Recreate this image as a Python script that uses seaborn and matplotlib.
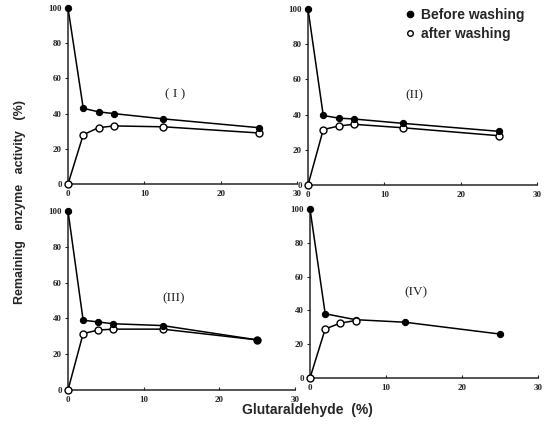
import numpy as np
import pandas as pd
import seaborn as sns
import matplotlib.pyplot as plt
from matplotlib.lines import Line2D

# glutaraldehyde concentration (%)
glut = [0, 2, 4, 6, 12.5, 25]

# remaining activity (%)
before_1 = [100, 43, 41, 40, 37, 32]
after_1 = [0, 28, 32, 33, 32.5, 29]
before_2 = [100, 39.5, 38, 37.5, 35, 30.5]
after_2 = [0, 31.5, 33.5, 34.5, 32.5, 28]
before_3 = [100, 39, 38, 37, 36, 28]
after_3 = [0, 31.5, 33.5, 34, 34, 28]
before_4 = [100, 38, np.nan, 34.5, 33, 26]
after_4 = [0, 29, 32.5, 34, np.nan, np.nan]

panels = ["( I )", "(II)", "(III)", "(IV)"]
before_all = [before_1, before_2, before_3, before_4]
after_all = [after_1, after_2, after_3, after_4]

sns.set_style("ticks")
plt.rcParams["font.family"] = ["Liberation Sans", "DejaVu Sans"]

W, H = 553, 441
fig = plt.figure(figsize=(W / 100, H / 100), dpi=100)

# axes boxes in pixels: left, right, top, bottom
boxes = [(68, 297, 8, 184), (308, 537, 9, 185),
         (68, 295, 211, 390), (310, 538, 209, 378)]

for i, (l, r, t, b) in enumerate(boxes):
    ax = fig.add_axes([l / W, (H - b) / H, (r - l) / W, (b - t) / H])
    df_b = pd.DataFrame({"x": glut, "y": before_all[i]}).dropna()
    df_a = pd.DataFrame({"x": glut, "y": after_all[i]}).dropna()
    # panel IV: open circles sit on top of the solid curve
    z_after = 5 if i == 3 else 3
    sns.lineplot(data=df_a, x="x", y="y", ax=ax, color="black", lw=1.1,
                 marker="o", markersize=5, markerfacecolor="white",
                 markeredgecolor="black", markeredgewidth=1.0, clip_on=False,
                 zorder=z_after)
    sns.lineplot(data=df_b, x="x", y="y", ax=ax, color="black", lw=1.1,
                 marker="o", markersize=4.5, markerfacecolor="black",
                 markeredgecolor="black", clip_on=False, zorder=4)
    ax.set_xlim(0, 30)
    ax.set_ylim(0, 100)
    ax.set_xticks([0, 10, 20, 30])
    ax.set_yticks([0, 20, 40, 60, 80, 100])
    ax.set_xlabel("")
    ax.set_ylabel("")
    ax.tick_params(axis="both", length=2.5, width=0.8, labelsize=6.5, pad=2)
    ax.tick_params(axis="x", direction="in", pad=4)
    for lab in ax.get_xticklabels() + ax.get_yticklabels():
        lab.set_family("Liberation Serif")
        lab.set_fontweight("bold")
    for s in ["top", "right"]:
        ax.spines[s].set_visible(False)
    for s in ["left", "bottom"]:
        ax.spines[s].set_linewidth(1.1)
    ax.patch.set_alpha(0)
    ax.text(14, 51, panels[i], family="Liberation Serif", fontsize=9.5,
            ha="center", va="center")
    if i == 1:
        handles = [
            Line2D([], [], ls="none", marker="o", markersize=4.5,
                   markerfacecolor="black", markeredgecolor="black"),
            Line2D([], [], ls="none", marker="o", markersize=4,
                   markerfacecolor="white", markeredgecolor="black"),
        ]
        ax.legend(handles, ["Before washing", "after washing"], frameon=False,
                  loc="upper right", bbox_to_anchor=(0.97, 1.04),
                  prop={"weight": "bold", "size": 10}, handletextpad=0.3,
                  handlelength=1.0, labelspacing=0.4, borderaxespad=0)

fig.text(20 / W, 1 - 202 / H, "Remaining   enzyme   activity   (%)",
         rotation=90, ha="center", va="center", fontsize=9, fontweight="bold")
fig.text(307 / W, 1 - 410 / H, "Glutaraldehyde  (%)", ha="center",
         va="center", fontsize=10, fontweight="bold")

fig.savefig("out.png", dpi=100)
